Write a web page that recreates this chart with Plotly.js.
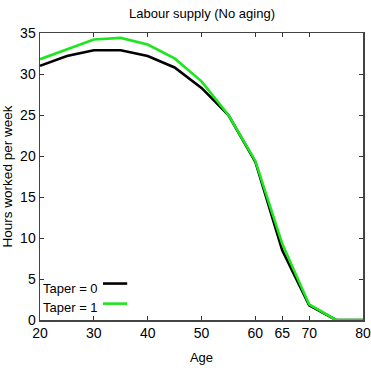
<!DOCTYPE html>
<html>
<head>
<meta charset="utf-8">
<script src="https://cdn.plot.ly/plotly-3.0.1.min.js"></script>
<style>
  html, body { margin: 0; padding: 0; background: #fff; }
  #chart { width: 371px; height: 368px; }
</style>
</head>
<body>
<div id="chart"></div>
<script>
// Age grid (years)
const ages = [20, 25, 30, 35, 40, 45, 50, 55, 60, 65, 70, 75, 80];

// Hours worked per week by age
const taper0 = [31.0, 32.2, 32.9, 32.9, 32.2, 30.8, 28.3, 25.0, 19.3, 8.5, 1.8, 0.0, 0.0];
const taper1 = [31.8, 33.0, 34.2, 34.4, 33.6, 31.9, 29.1, 25.0, 19.4, 9.3, 1.9, 0.0, 0.0];

const seriesNames = ["Taper = 0", "Taper = 1"];
const seriesColors = ["#000000", "#1ee61e"];

const xTicks = [20, 30, 40, 50, 60, 65, 70, 80];
const yTicks = [0, 5, 10, 15, 20, 25, 30, 35];

const sans = "'Liberation Sans', Arial, sans-serif";

const traces = [taper0, taper1].map((vals, i) => ({
  x: ages,
  y: vals,
  type: "scatter",
  mode: "lines",
  name: seriesNames[i],
  line: { color: seriesColors[i], width: 2.6 },
  showlegend: false,
  hoverinfo: "skip"
}));

// Legend drawn as text followed by a short line sample
const legendText = [0.111, 0.042];
const legendLine = [0.127, 0.057];
const annotations = [{
  text: "Labour supply (No aging)",
  xref: "paper", yref: "paper", x: 0.5, y: 1.035,
  xanchor: "center", yanchor: "bottom", showarrow: false,
  font: { family: sans, size: 13, color: "#000" }
}];
const shapes = [];
seriesNames.forEach((name, i) => {
  annotations.push({
    text: name, xref: "paper", yref: "paper",
    x: 0.003, y: legendText[i], xanchor: "left", yanchor: "middle",
    showarrow: false, font: { family: sans, size: 13, color: "#000" }
  });
  shapes.push({
    type: "line", xref: "paper", yref: "paper",
    x0: 0.195, x1: 0.27, y0: legendLine[i], y1: legendLine[i],
    line: { color: seriesColors[i], width: 2.6 }
  });
});

const layout = {
  width: 371, height: 368,
  margin: { l: 40, r: 8, t: 33, b: 48 },
  paper_bgcolor: "#fff", plot_bgcolor: "#fff",
  font: { family: sans, size: 13, color: "#000" },
  xaxis: {
    range: [20, 80], tickmode: "array", tickvals: xTicks,
    ticks: "inside", ticklen: 4, tickcolor: "#333",
    showline: true, linecolor: "#444", linewidth: 1.5, mirror: "ticks",
    showgrid: false, zeroline: false, ticklabeloverflow: "allow",
    tickfont: { family: sans, size: 14 },
    title: { text: "Age", font: { family: sans, size: 13 }, standoff: 12 }
  },
  yaxis: {
    range: [0, 35], tickmode: "array", tickvals: yTicks,
    ticks: "inside", ticklen: 4, tickcolor: "#333",
    showline: true, linecolor: "#444", linewidth: 1.5, mirror: "ticks",
    showgrid: false, zeroline: false,
    tickfont: { family: sans, size: 14 },
    title: { text: "Hours worked per week", font: { family: sans, size: 13.5 }, standoff: 8 }
  },
  annotations: annotations,
  shapes: shapes
};

Plotly.newPlot("chart", traces, layout, { displayModeBar: false, staticPlot: true });
</script>
</body>
</html>
